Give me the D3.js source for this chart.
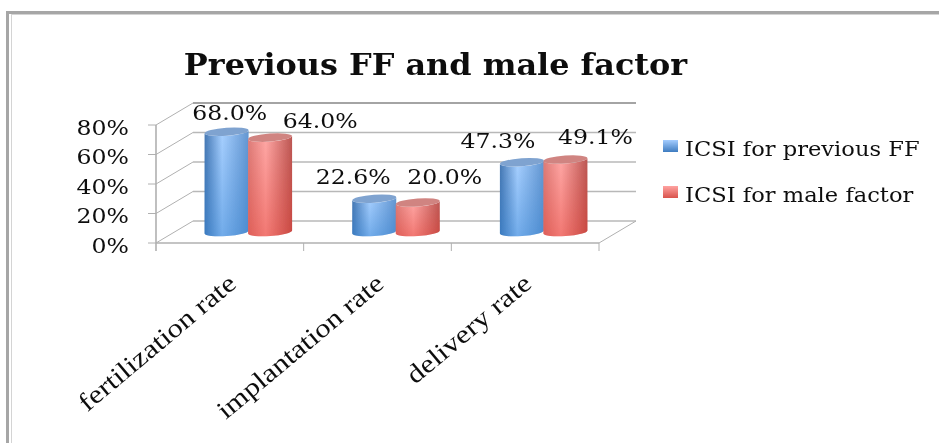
<!DOCTYPE html>
<html>
<head>
<meta charset="utf-8">
<script src="https://cdnjs.cloudflare.com/ajax/libs/d3/7.8.5/d3.min.js"></script>
<style>
  html, body { margin: 0; padding: 0; background: #fff; }
  svg { display: block; }
  text { fill: #111; }
</style>
</head>
<body>
<div id="chart"></div>
<script>
// data
var categories = ['fertilization rate', 'implantation rate', 'delivery rate'];
var seriesNames = ['ICSI for previous FF', 'ICSI for male factor'];
var previousFF = [68.0, 22.6, 47.3];
var maleFactor = [64.0, 20.0, 49.1];
var yTicks = [0, 20, 40, 60, 80];
var chartTitle = 'Previous FF and male factor';

var svg = d3.select('#chart').append('svg').attr('width', 939).attr('height', 443);
var defs = svg.append('defs');

// front edge of the floor, depth is how far the back wall sits from it
var left = 156, right = 599, bottom = 243, top80 = 125;
var depthX = 37, depthY = 22;
var barRx = 22, barRy = 4, barTilt = -0.07;

var x = d3.scaleBand().domain(categories).range([left, right]);
var xInner = d3.scaleBand().domain(seriesNames).range([0, 87]);
var y = d3.scaleLinear().domain([0, 80]).range([bottom, top80]);

// the text in the picture is stretched sideways
var stretch = 1.18;

// gradients for the cylinders
function cylinderGradient(id, edge, mid, edge2) {
  var g = defs.append('linearGradient').attr('id', id);
  g.append('stop').attr('offset', '0%').attr('stop-color', edge);
  g.append('stop').attr('offset', '40%').attr('stop-color', mid);
  g.append('stop').attr('offset', '100%').attr('stop-color', edge2);
}
cylinderGradient('blueSide', '#4577b2', '#a8d0ff', '#6496d0');
cylinderGradient('redSide', '#dc7c78', '#ffa8a6', '#bb5753');

function shadeGradient(id, color, amount) {
  var g = defs.append('linearGradient').attr('id', id).attr('x1', 0).attr('x2', 0).attr('y1', 0).attr('y2', 1);
  g.append('stop').attr('offset', '0%').attr('stop-color', color).attr('stop-opacity', 0);
  g.append('stop').attr('offset', '100%').attr('stop-color', color).attr('stop-opacity', amount);
}
shadeGradient('blueShade', '#2f7fd0', 0.45);
shadeGradient('redShade', '#e0362c', 0.42);

var legendGrad = function(id, a, b) {
  var g = defs.append('linearGradient').attr('id', id).attr('x1', 0).attr('x2', 0).attr('y1', 0).attr('y2', 1);
  g.append('stop').attr('offset', '0%').attr('stop-color', a);
  g.append('stop').attr('offset', '100%').attr('stop-color', b);
};
legendGrad('blueKey', '#a5cdff', '#3f7cc0');
legendGrad('redKey', '#ffa3a1', '#d9534c');

var blur = defs.append('filter').attr('id', 'soft');
blur.append('feGaussianBlur').attr('stdDeviation', 0.5);

var root = svg.append('g').attr('filter', 'url(#soft)');

// outer frame
root.append('rect').attr('x', 7.5).attr('y', 12.5).attr('width', 940).attr('height', 440)
  .attr('fill', 'none').attr('stroke', '#a6a6a6').attr('stroke-width', 3);
root.append('rect').attr('x', 11.5).attr('y', 14.5).attr('width', 940).attr('height', 440)
  .attr('fill', 'none').attr('stroke', '#d4d4d4').attr('stroke-width', 1);

var grid = root.append('g').attr('stroke', '#b0b0b0').attr('fill', 'none');

// back wall grid lines and the slanted side wall
yTicks.forEach(function(t) {
  grid.append('line')
    .attr('x1', left + depthX).attr('x2', right + depthX)
    .attr('y1', y(t) - depthY).attr('y2', y(t) - depthY)
    .attr('stroke', t === 80 ? '#a4a4a4' : '#b8b8b8')
    .attr('stroke-width', t === 80 ? 2 : 1.3);
  grid.append('line')
    .attr('x1', left).attr('x2', left + depthX)
    .attr('y1', y(t)).attr('y2', y(t) - depthY);
  grid.append('line')
    .attr('x1', left - 8).attr('x2', left)
    .attr('y1', y(t)).attr('y2', y(t));
});

// axes frame
grid.append('line').attr('x1', left).attr('x2', left).attr('y1', top80).attr('y2', bottom + 8).attr('stroke-width', 1.6);
grid.append('line').attr('x1', left).attr('x2', right).attr('y1', bottom).attr('y2', bottom).attr('stroke-width', 1.4);
grid.append('line').attr('x1', right).attr('x2', right + depthX).attr('y1', bottom).attr('y2', bottom - depthY);
d3.range(categories.length).forEach(function(i) {
  var tx = x(categories[i]) + x.bandwidth();
  grid.append('line').attr('x1', tx).attr('x2', tx).attr('y1', bottom).attr('y2', bottom + 8);
});

// y labels
root.selectAll('.ylab').data(yTicks).enter().append('text')
  .attr('class', 'ylab')
  .attr('text-anchor', 'end')
  .attr('transform', function(d) {
    return 'translate(129,' + (y(d) + 9.5) + ') scale(' + stretch + ',1)';
  })
  .style('font-family', '"DejaVu Serif"')
  .style('font-size', '20px')
  .text(function(d) { return d + '%'; });

// bars
function cylinder(cx, val) {
  var yBase = y(0) - depthY / 2;
  var yTop = y(val) - depthY / 2;
  var dy = barRx * barTilt;
  return 'M' + (cx - barRx) + ',' + (yTop - dy) +
    'L' + (cx - barRx) + ',' + (yBase - dy) +
    'A' + barRx + ',' + barRy + ' -4 0 0 ' + (cx + barRx) + ',' + (yBase + dy) +
    'L' + (cx + barRx) + ',' + (yTop + dy) +
    'A' + barRx + ',' + barRy + ' -4 0 1 ' + (cx - barRx) + ',' + (yTop - dy) + 'Z';
}

// value labels sit away from their bars in the picture
var labelShiftX = [[3, -21, -24], [50, 27, 30]];
var labelShiftY = [[12, 15, 14], [10, 18.5, 15.6]];

var seriesList = [
  { name: seriesNames[0], values: previousFF, side: 'url(#blueSide)', shade: 'url(#blueShade)', cap: '#7fa3d0' },
  { name: seriesNames[1], values: maleFactor, side: 'url(#redSide)', shade: 'url(#redShade)', cap: '#d08481' }
];

seriesList.forEach(function(s, si) {
  var rows = categories.map(function(c, i) {
    return {
      val: s.values[i],
      cx: x(c) + x.bandwidth() / 2 + depthX / 2 - 43.5 + xInner(s.name) + xInner.bandwidth() / 2,
      i: i
    };
  });
  var g = root.append('g');
  g.selectAll('.side').data(rows).enter().append('path')
    .attr('d', function(d) { return cylinder(d.cx, d.val); })
    .attr('fill', s.side);
  g.selectAll('.shade').data(rows).enter().append('path')
    .attr('d', function(d) { return cylinder(d.cx, d.val); })
    .attr('fill', s.shade);
  g.selectAll('.cap').data(rows).enter().append('ellipse')
    .attr('rx', barRx).attr('ry', barRy)
    .attr('transform', function(d) {
      return 'translate(' + d.cx + ',' + (y(d.val) - depthY / 2) + ') rotate(-4)';
    })
    .attr('fill', s.cap);
  // value labels
  g.selectAll('.val').data(rows).enter().append('text')
    .attr('text-anchor', 'middle')
    .attr('transform', function(d) {
      var lx = d.cx + labelShiftX[si][d.i];
      var ly = y(d.val) - depthY / 2 - labelShiftY[si][d.i];
      return 'translate(' + lx + ',' + ly + ') scale(' + stretch + ',1)';
    })
    .style('font-family', '"DejaVu Serif"')
    .style('font-size', '20px')
    .text(function(d) { return d.val.toFixed(1) + '%'; });
});

// category labels
root.selectAll('.cat').data(categories).enter().append('text')
  .attr('class', 'cat')
  .attr('text-anchor', 'end')
  .attr('transform', function(d) {
    return 'translate(' + (x(d) + x.bandwidth() / 2 + 8) + ',286) rotate(-40) scale(' + stretch + ',1)';
  })
  .style('font-family', '"Liberation Serif"')
  .style('font-size', '26px')
  .text(function(d) { return d; });

// title
root.append('text')
  .attr('text-anchor', 'middle')
  .attr('transform', 'translate(435.5,75) scale(1.1,1)')
  .style('font-family', '"DejaVu Serif"')
  .style('font-weight', 'bold')
  .style('font-size', '29px')
  .text(chartTitle);

// legend
var legendY = d3.scalePoint().domain(seriesNames).range([146, 192]);
var keys = ['url(#blueKey)', 'url(#redKey)'];
seriesNames.forEach(function(n, i) {
  root.append('rect')
    .attr('x', 663).attr('y', legendY(n) - 6)
    .attr('width', 15).attr('height', 12)
    .attr('fill', keys[i]);
  root.append('text')
    .attr('transform', 'translate(685,' + (legendY(n) + 10) + ') scale(1.13,1)')
    .style('font-family', '"DejaVu Serif"')
    .style('font-size', '20px')
    .text(n);
});
</script>
</body>
</html>
